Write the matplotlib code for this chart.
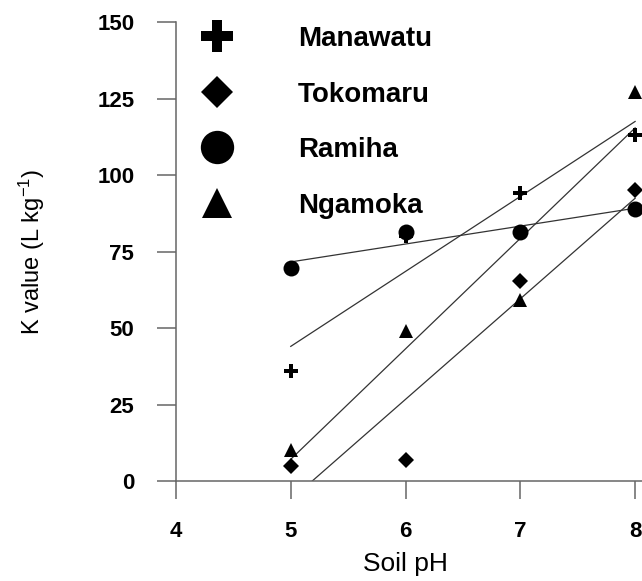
import numpy as np
import matplotlib.pyplot as plt

plt.rcParams['font.family'] = 'Liberation Sans'
plt.rcParams['mathtext.default'] = 'regular'

# K values per soil pH for each soil
ph = np.array([5, 6, 7, 8])
manawatu = np.array([36, 80, 94, 113])
tokomaru = np.array([5, 7, 65.5, 95])
ramiha = np.array([69.5, 81.5, 81.5, 89])
ngamoka = np.array([10, 49, 59, 127])

names = ['Manawatu', 'Tokomaru', 'Ramiha', 'Ngamoka']
series = [manawatu, tokomaru, ramiha, ngamoka]
markers = ['P', 'D', 'o', '^']
sizes = [10.5, 8, 11.5, 10.5]
key_sizes = [23, 16, 24, 22]

fig = plt.figure(figsize=(6.42, 5.81), dpi=100)
ax = fig.add_axes([0.2741, 0.1721, 0.7259, 0.790])

# linear fits drawn from pH 5 to 8
xfit = np.linspace(5, 8, 50)
for y in series:
    slope, icpt = np.polyfit(ph, y, 1)
    ax.plot(xfit, slope * xfit + icpt, color='#333333', lw=0.9, zorder=2)

for y, m, s in zip(series, markers, sizes):
    ax.plot(ph, y, linestyle='none', marker=m, ms=s, color='black',
            markeredgewidth=0, clip_on=False, zorder=3)

# hand-made key in the upper left
key_y = [145.5, 127, 109, 91]
for name, m, s, yk in zip(names, markers, key_sizes, key_y):
    ax.plot(4.357, yk, marker=m, ms=s, color='black', markeredgewidth=0,
            clip_on=False)
    ax.text(5.063, yk, name, fontsize=20, fontweight='bold', va='center_baseline')

ax.set_xlim(4, 8.06)
ax.set_ylim(0, 150)
ax.set_xticks([4, 5, 6, 7, 8])
ax.set_yticks([0, 25, 50, 75, 100, 125, 150])

for side in ['top', 'right']:
    ax.spines[side].set_visible(False)
for side in ['left', 'bottom']:
    ax.spines[side].set_color('#666666')
    ax.spines[side].set_linewidth(1.1)

ax.tick_params(axis='y', direction='out', length=14, width=1.1, color='#666666',
               pad=16, labelsize=16)
ax.tick_params(axis='x', direction='out', length=13, width=1.1, color='#666666',
               pad=16, labelsize=16)
for lbl in ax.get_xticklabels() + ax.get_yticklabels():
    lbl.set_fontweight('bold')

ax.set_xlabel('Soil pH', fontsize=19)
ax.xaxis.set_label_coords(0.493, -0.155)
ax.set_ylabel('K value (L kg$^{-1}$)', fontsize=17)
ax.yaxis.set_label_coords(-0.277, 0.5)

fig.savefig('out.png', dpi=100)
